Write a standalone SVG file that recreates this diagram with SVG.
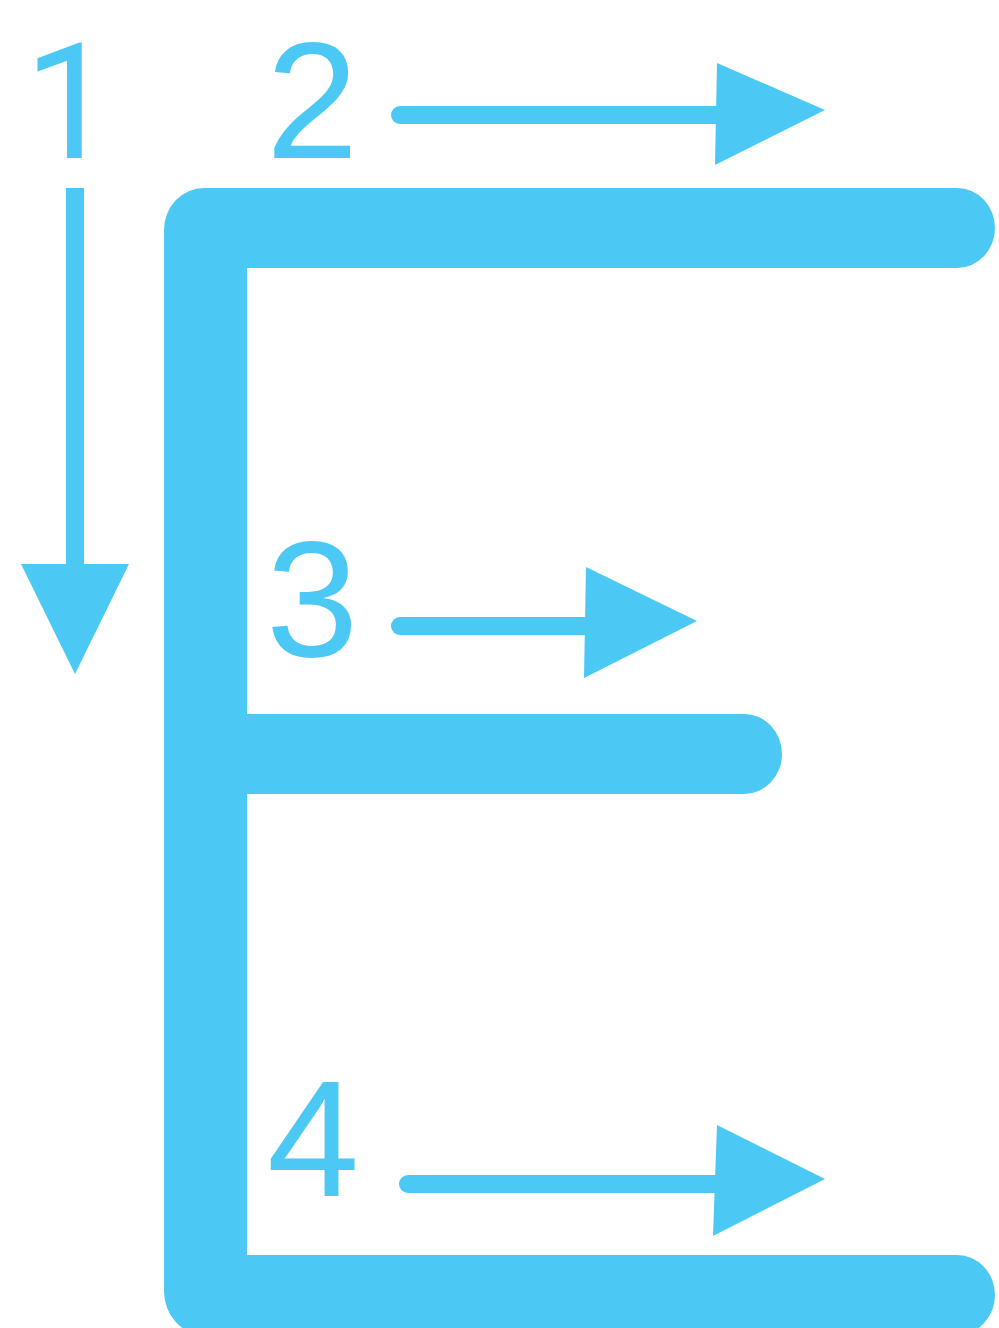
<svg xmlns="http://www.w3.org/2000/svg" width="999" height="1328" viewBox="0 0 999 1328">
<style>
.f{fill:#4BC8F3}
.s{stroke:#4BC8F3;stroke-width:18;stroke-linecap:round;fill:none}
.n{font-family:"Liberation Sans",Arial,sans-serif;font-size:166px;fill:#4BC8F3}
.r{font-family:Roboto,"Liberation Sans",Arial,sans-serif;font-size:162px}
</style>
<rect width="999" height="1328" fill="#fff"/>
<g id="letter-E">
<path class="f" d="M204,188 L957,188 A38,40 0 0 1 957,268 L247,268 L247,714 L744,714 A38,40 0 0 1 744,794 L247,794 L247,1255 L957,1255 A38,40 0 0 1 957,1335 L204,1335 A40,44 0 0 1 164,1291 L164,230 A40,42 0 0 1 204,188 Z"/>
</g>
<g id="labels">
<text class="n r" x="24" y="158">1</text>
<text class="n" x="266" y="158">2</text>
<text class="n" x="266" y="656">3</text>
<text class="n" x="267" y="1196">4</text>
</g>
<g id="connectors">
<rect class="f" x="66" y="188" width="18" height="378"/>
<polygon class="f" points="21,564 129,564 75,674"/>
<line class="s" x1="400" y1="115" x2="718" y2="115"/>
<polygon class="f" points="717,63 825,110 715,165"/>
<line class="s" x1="400" y1="626" x2="588" y2="626"/>
<polygon class="f" points="586,567 697,621 584,678"/>
<line class="s" x1="408" y1="1184" x2="718" y2="1184"/>
<polygon class="f" points="717,1125 825,1179 713,1236"/>
</g>
</svg>
